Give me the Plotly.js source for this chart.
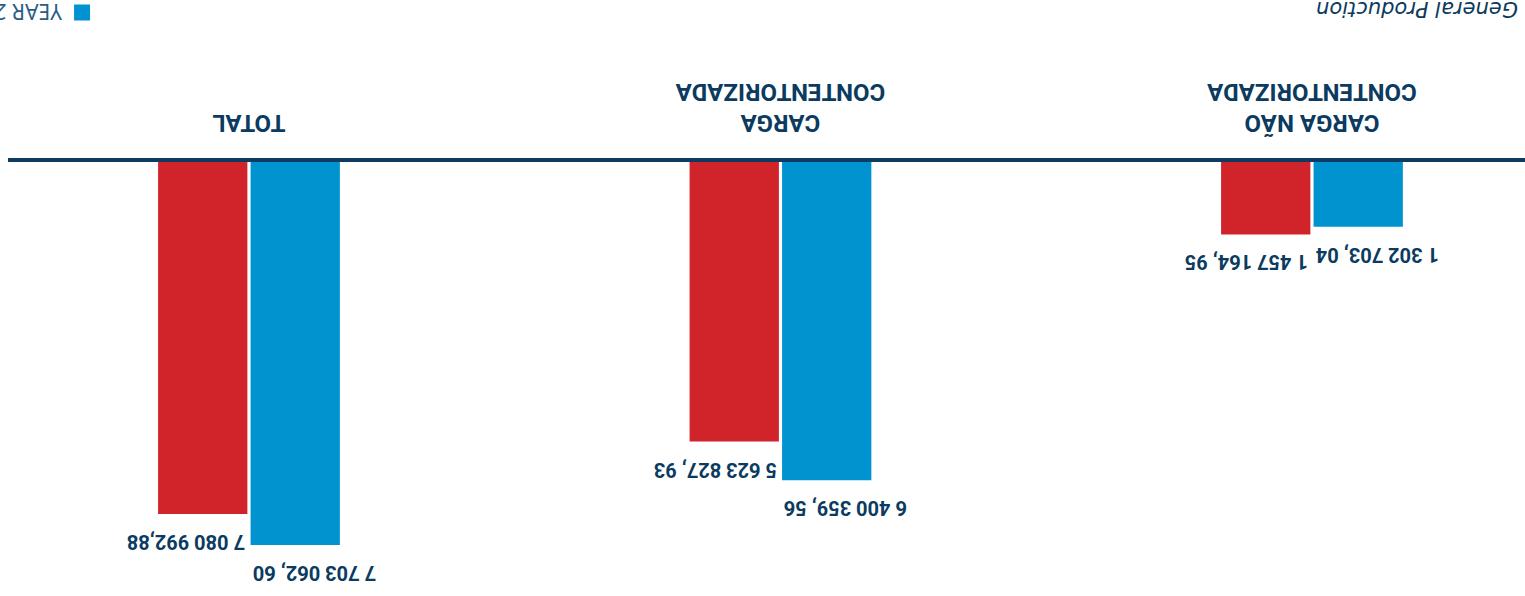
<!DOCTYPE html>
<html>
<head>
<meta charset="utf-8">
<script src="https://cdn.plot.ly/plotly-3.0.1.min.js"></script>
<style>
  html, body { margin: 0; padding: 0; background: #fff; overflow: hidden; }
  /* the reference picture is upside down, so the whole chart is turned */
  #viz { width: 1525px; height: 596px; transform: rotate(180deg); }
</style>
</head>
<body>
<div id="viz"></div>
<script>
// categories and values
var categories = ['CARGA NÃO<br>CONTENTORIZADA', 'CARGA<br>CONTENTORIZADA', 'TOTAL'];
var year2 = [1302703.04, 6400359.56, 7703062.60];   // blue
var year1 = [1457164.95, 5623827.93, 7080992.88];   // red
var year2Labels = ['1 302 703, 04', '6 400 359, 56', '7 703 062, 60'];
var year1Labels = ['1 457 164, 95', '5 623 827, 93', '7 080 992,88'];

var navy = '#0b3b60';
var blue = '#0093cf';
var red = '#d1232a';
var xs = [0, 1, 2];

var trace1 = {
  x: xs,
  y: year2,
  type: 'bar',
  name: 'YEAR 2',
  width: 0.168,
  offset: -0.171,
  showlegend: false,
  marker: { color: blue },
  hoverinfo: 'none'
};

var trace2 = {
  x: xs,
  y: year1,
  type: 'bar',
  name: 'YEAR 1',
  width: 0.168,
  offset: 0.003,
  showlegend: false,
  marker: { color: red },
  hoverinfo: 'none'
};

// legend entry only (bigger square than the bar legend symbol)
var legendItem = {
  x: [null],
  y: [null],
  type: 'scatter',
  mode: 'markers',
  name: 'YEAR 2',
  marker: { symbol: 'square', size: 18, color: blue },
  hoverinfo: 'none'
};

// value labels above the bars: blue ones end at the bar's right edge, red ones start at the left edge
var annotations = [];
for (var i = 0; i < xs.length; i++) {
  annotations.push({
    x: xs[i] - 0.003, y: year2[i], text: year2Labels[i],
    xanchor: 'right', yanchor: 'bottom', yshift: 14, showarrow: false,
    font: { family: 'Roboto', size: 20, color: navy, weight: 700 }
  });
  annotations.push({
    x: xs[i] + 0.003, y: year1[i], text: year1Labels[i],
    xanchor: 'left', yanchor: 'bottom', yshift: 14, showarrow: false,
    font: { family: 'Roboto', size: 20, color: navy, weight: 700 }
  });
}

// chart title sits at the very bottom edge (cut a little, as in the original)
annotations.push({
  text: 'General Production',
  xref: 'paper', yref: 'paper',
  x: 0.0033, xanchor: 'left',
  y: -0.385, yanchor: 'bottom',
  showarrow: false,
  font: { family: 'DejaVu Sans', size: 21, color: navy, style: 'italic' }
});

var layout = {
  width: 1525,
  height: 596,
  margin: { l: 0, r: 8, t: 0, b: 162, autoexpand: false },
  paper_bgcolor: '#fff',
  plot_bgcolor: '#fff',
  barmode: 'group',
  showlegend: true,
  legend: {
    orientation: 'h',
    x: 0.938, xanchor: 'left',
    y: -0.298, yanchor: 'top',
    font: { family: 'Noto Sans', size: 21, color: '#2b5c84' }
  },
  xaxis: {
    range: [-0.4008, 2.4534],
    tickvals: xs,
    ticktext: categories,
    showgrid: false,
    zeroline: false,
    showline: true,
    linecolor: navy,
    linewidth: 4,
    ticks: '',
    ticklabelstandoff: 14,
    tickfont: { family: 'Roboto', size: 24, color: navy, weight: 700 }
  },
  yaxis: {
    range: [0, 8.73e6],
    visible: false,
    showgrid: false,
    zeroline: false
  },
  annotations: annotations
};

Plotly.newPlot('viz', [trace1, trace2, legendItem], layout, { staticPlot: true });
</script>
</body>
</html>
